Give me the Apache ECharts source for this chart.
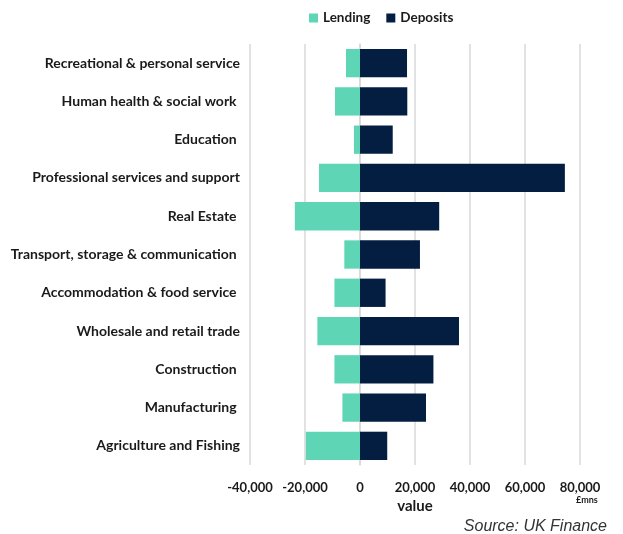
<!DOCTYPE html>
<html>
<head>
<meta charset="utf-8">
<script src="https://cdn.jsdelivr.net/npm/echarts@6/dist/echarts.min.js"></script>
<style>
html,body{margin:0;padding:0;background:#fff;}
#chart{width:623px;height:534px;}
</style>
</head>
<body>
<div id="chart"></div>
<script>
// Data (top to bottom as displayed)
const categories = [
  "Recreational & personal service",
  "Human health & social work ",
  "Education ",
  "Professional services and support",
  "Real Estate ",
  "Transport, storage & communication ",
  "Accommodation & food service ",
  "Wholesale and retail trade",
  "Construction ",
  "Manufacturing ",
  "Agriculture and Fishing"
];
const lending = [-5100, -9100, -2200, -14900, -23700, -5700, -9300, -15500, -9300, -6400, -19700];
const deposits = [17100, 17200, 11900, 74500, 28800, 21800, 9300, 36000, 26700, 24000, 9900];
const xTicks = [-40000, -20000, 0, 20000, 40000, 60000, 80000];

const FONT = "Lato";
const chart = echarts.init(document.getElementById('chart'), null, {renderer: 'canvas'});
chart.setOption({
  animation: false,
  textStyle: {fontFamily: FONT},
  legend: {
    top: 6, left: 304,
    itemWidth: 9, itemHeight: 9, itemGap: 16,
    icon: 'rect',
    textStyle: {fontFamily: FONT, fontWeight: 'bold', fontSize: 13.5, color: '#1a1a1a'},
    data: ['Lending', 'Deposits']
  },
  title: [
    {text: '£mns', left: 571, top: 491, textStyle: {fontFamily: FONT, fontWeight: 'bold', fontSize: 9, color: '#1a1a1a'}},
    {text: 'Source: UK Finance', right: 11, top: 514, textStyle: {fontFamily: 'Liberation Sans', fontStyle: 'italic', fontWeight: 'normal', fontSize: 16, color: '#333'}}
  ],
  grid: {left: 250, right: 43, top: 44, bottom: 69, containLabel: false},
  xAxis: {
    type: 'value',
    min: xTicks[0], max: xTicks[xTicks.length - 1], interval: 20000,
    name: 'value', nameLocation: 'middle', nameGap: 31,
    nameTextStyle: {fontFamily: FONT, fontWeight: 'bold', fontSize: 15, color: '#1a1a1a'},
    axisLine: {show: false},
    axisTick: {show: false},
    splitLine: {show: true, lineStyle: {color: '#d9d9d9', width: 1.5}},
    axisLabel: {
      margin: 16,
      fontFamily: FONT, fontWeight: 'bold', fontSize: 13, color: '#1a1a1a',
      formatter: v => v.toLocaleString('en-US')
    }
  },
  yAxis: {
    type: 'category',
    data: categories,
    inverse: true,
    axisLine: {show: true, lineStyle: {color: '#d9d9d9', width: 1.5}},
    axisTick: {show: false},
    axisLabel: {margin: 10, fontFamily: FONT, fontWeight: 'bold', fontSize: 14, color: '#1a1a1a'}
  },
  series: [
    {name: 'Lending', type: 'bar', stack: 'total', data: lending, barWidth: '74%',
     itemStyle: {color: '#5ed6b6'}},
    {name: 'Deposits', type: 'bar', stack: 'total', data: deposits, barWidth: '74%',
     itemStyle: {color: '#041e42'}}
  ]
});
</script>
</body>
</html>
